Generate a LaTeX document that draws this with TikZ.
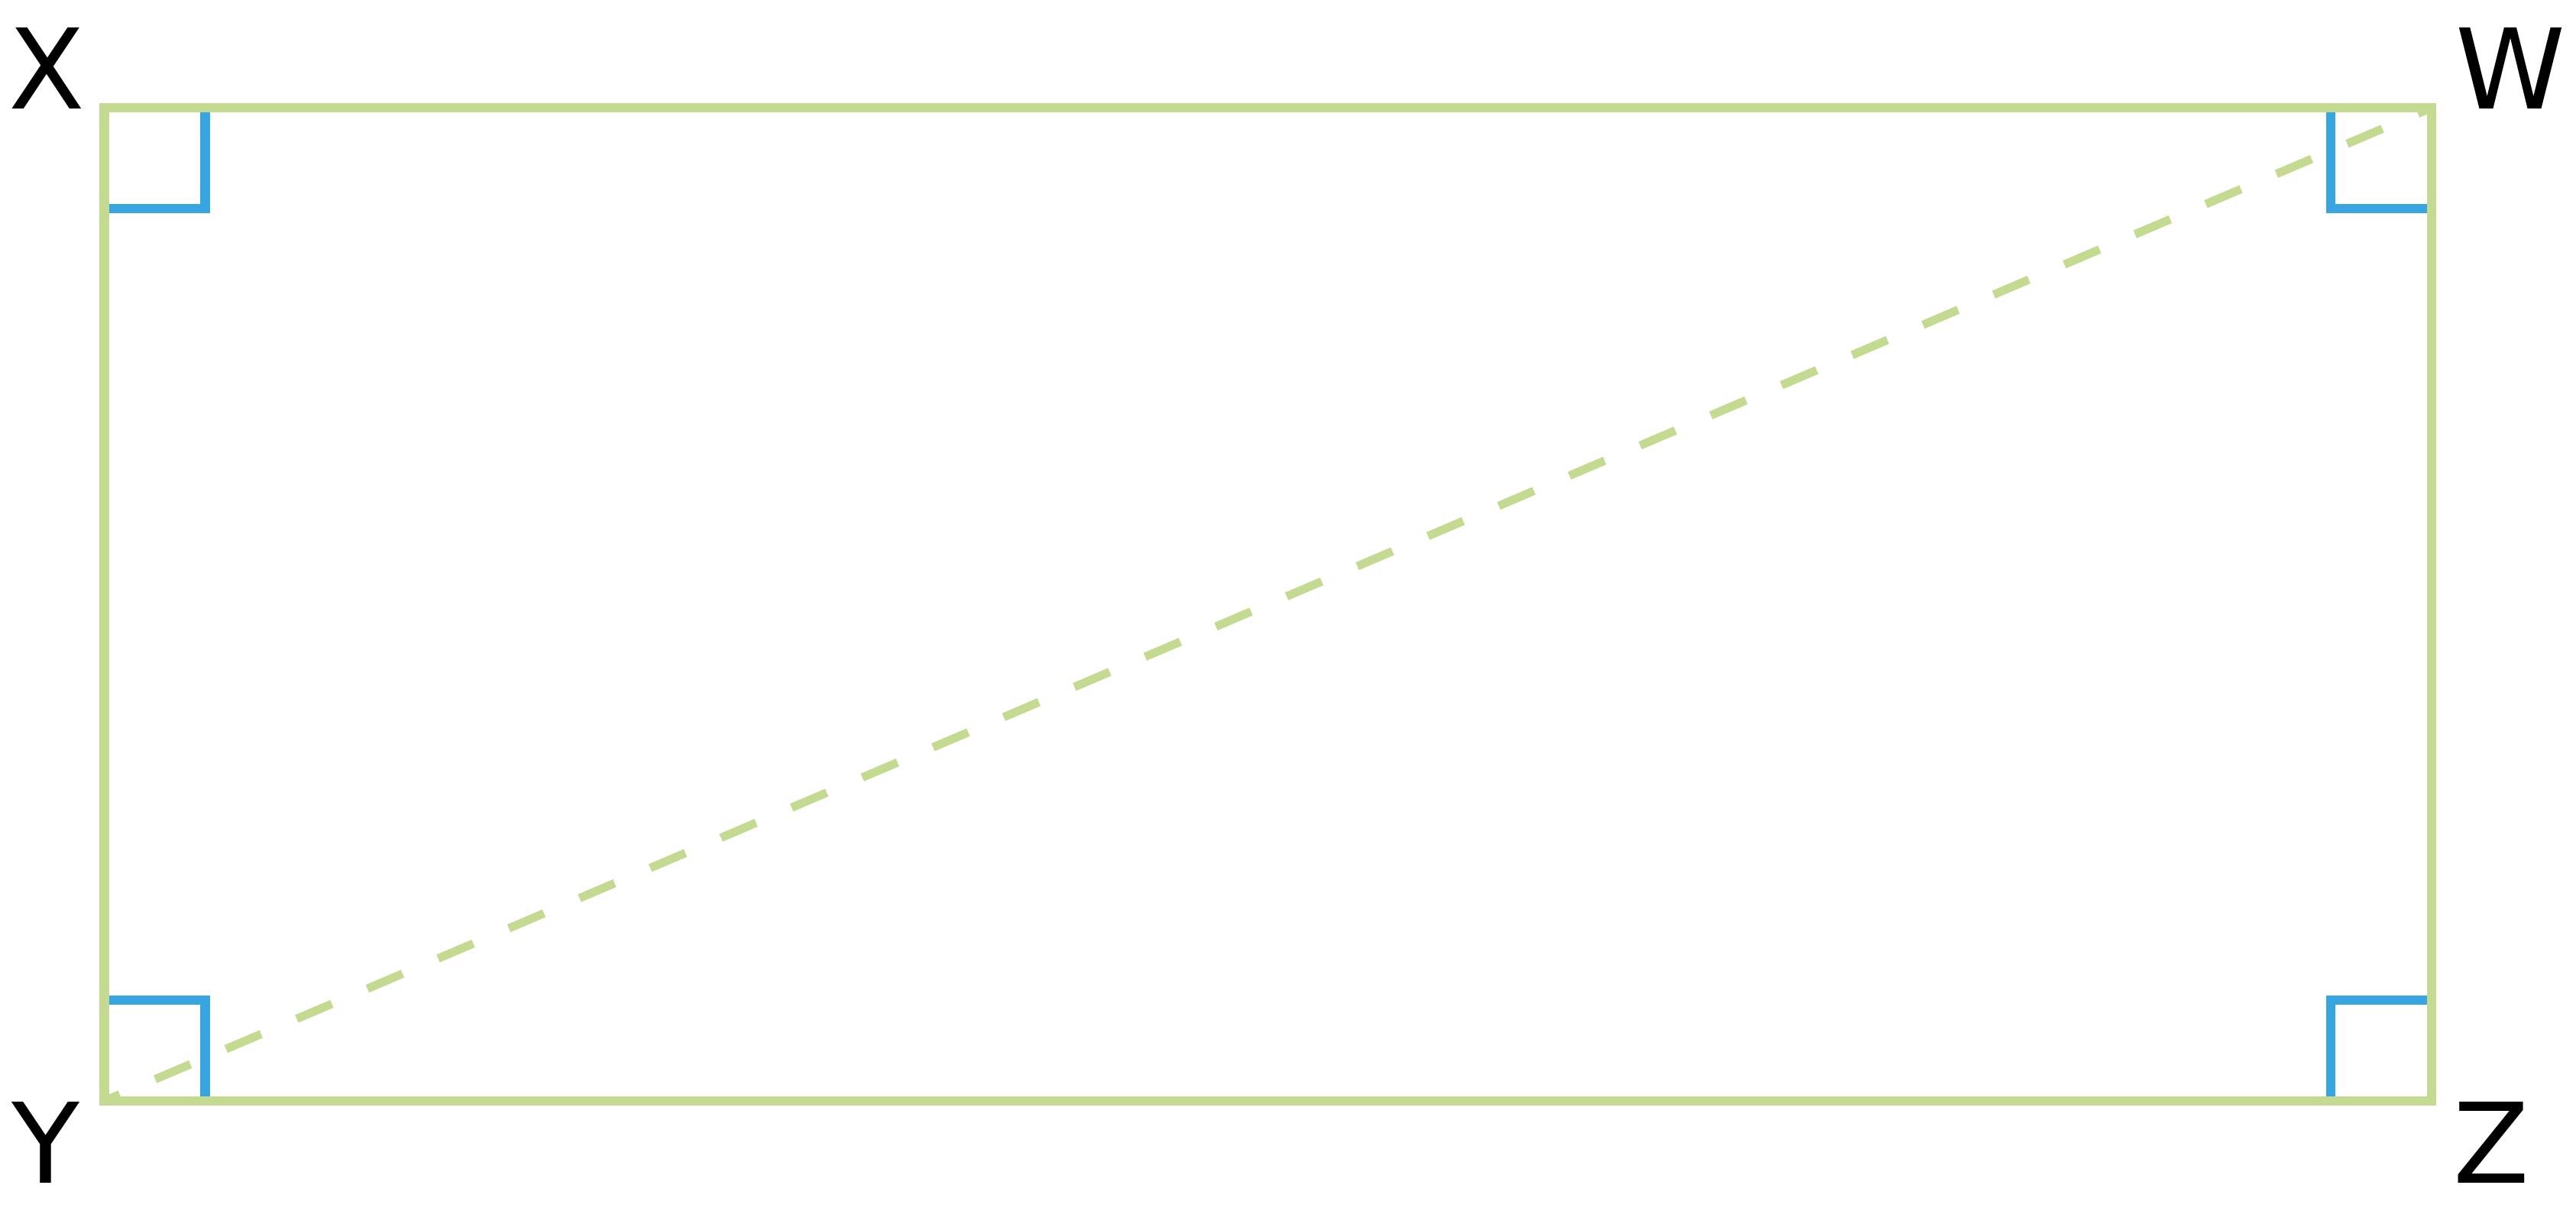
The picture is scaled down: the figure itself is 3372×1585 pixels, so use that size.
\documentclass[tikz,border=0pt]{standalone}
\usepackage{fontspec}
\setmainfont{DejaVu Sans}
\definecolor{sidegreen}{RGB}{197,218,145}
\definecolor{angleblue}{RGB}{54,165,224}
\begin{document}
\begin{tikzpicture}[x=0.01cm,y=-0.01cm,
		side/.style={draw=sidegreen,line width=0.12cm},
		diag/.style={draw=sidegreen,line width=0.11cm,dash pattern=on 0.5cm off 0.5057cm,dash phase=0.28cm},
		rightangle/.style={draw=angleblue,line width=0.12cm},
		vertex/.style={inner sep=0pt,font=\fontsize{41.4}{50}\selectfont}]
	\useasboundingbox (0,0) rectangle (3372,1585);
	\coordinate (x) at (136.5,141);
	\coordinate (w) at (3183,141);
	\coordinate (z) at (3183,1441);
	\coordinate (y) at (136.5,1441);
	% right angle marks
	\foreach \c/\sx/\sy in {x/1/1,w/-1/1,z/-1/-1,y/1/-1}
	\draw[rightangle] (\c) ++(0,132*\sy) -- ++(132*\sx,0) -- ++(0,-132*\sy);
	\draw[side] (x) -- (w) -- (z) -- (y) -- cycle;
	\draw[diag] (y) -- (w);
	\node[vertex] (xl) at (61,89) {X};
	\node[vertex] (wl) at (3286,89) {W};
	\node[vertex] (yl) at (60,1495) {Y};
	\node[vertex] (zl) at (3261,1495) {Z};
\end{tikzpicture}
\end{document}
